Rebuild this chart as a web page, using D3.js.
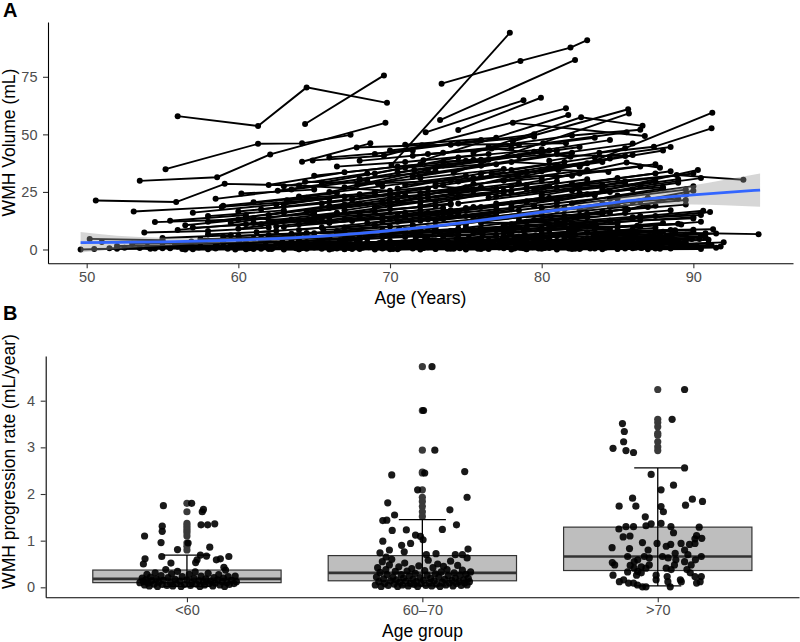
<!DOCTYPE html>
<html><head><meta charset="utf-8">
<script src="https://cdn.jsdelivr.net/npm/d3@7"></script>
<style>body{margin:0;background:#fff} svg{display:block} text{font-family:"Liberation Sans",Arial,Helvetica,sans-serif}</style>
</head><body><svg id="c" width="800" height="642"></svg>
<script>
// ---------- Panel A data: per-subject trajectories [age, vol, age, vol, ...]
const trajHigh = [
 [56.0,57.9, 61.3,53.6, 64.5,70.4, 69.8,63.7],
 [64.4,54.5, 69.6,75.6],
 [55.2,34.9, 61.3,45.9, 64.2,46.1, 67.4,49.8],
 [53.5,29.8, 58.6,31.4, 62.1,41.3, 69.7,55.0],
 [50.6,21.3, 55.9,20.6, 59.1,28.5, 64.0,27.8, 70.0,25.5],
 [53.1,16.5, 58.9,18.5, 66.0,22.0],
 [70.1,36.7, 77.9,94.1],
 [73.4,72.0, 78.6,81.9, 81.9,87.7, 83.0,90.9],
 [73.3,56.2, 82.2,82.3],
 [74.5,51.9, 79.95,65.9],
 [72.35,50.9, 78.8,64.8],
 [64.9,38.7, 69.6,40.7, 81.6,61.3],
 [72.2,38.8, 81.75,58.4],
 [75.5,42.0, 82.6,57.4, 86.65,53.7],
 [78.1,47.0, 85.7,60.9],
 [74.2,33.3, 85.75,59.1],
 [82.5,35.9, 91.25,59.4],
 [83.8,42.0, 87.4,44.6, 91.2,52.6],
 [80.1,46.1, 85.6,50.9],
 [78.1,55.0, 86.8,49.3],
 [67.8,44.3, 72.1,45.3, 81.6,46.1],
 [64.2,38.1, 68.7,46.1],
 [73.5,38.1, 80.0,41.0, 85.5,40.6],
 [71.5,40.7, 76.7,43.9, 81.9,40.3],
 [71.6,34.5, 78.0,38.0, 82.5,36.3],
 [76.7,33.0, 81.1,34.5, 84.4,33.7],
 [80.0,30.0, 85.6,37.8, 87.8,35.5],
 [81.0,27.0, 88.9,32.3, 93.3,30.3],
 [83.0,24.0, 90.3,34.5],
 [67.85,28.0, 72.0,31.0, 77.5,35.0],
 [64.4,29.4, 69.2,28.7, 74.0,30.0],
 [60.2,24.3, 65.0,26.0],
 [62.6,25.5, 68.0,30.5, 73.0,34.0],
 [63.2,21.4, 70.0,24.0, 76.0,27.0],
 [85.7,17.4, 89.55,24.0],
 [82.0,20.0, 85.0,23.5, 88.0,26.5],
 [86.0,14.0, 90.65,16.8],
 [84.5,12.5, 91.1,16.3],
 [54.5,11.9, 60.0,13.0, 65.0,15.5],
 [53.8,7.4, 58.0,8.0, 62.0,9.5],
 [50.2,4.6, 55.0,4.0],
 [49.6,0.0, 52.0,0.3, 55.0,0.5],
 [70.0,20.0, 75.5,28.5, 80.0,31.0],
 [66.0,18.0, 72.5,24.0, 78.5,29.0],
 [72.0,22.0, 79.0,26.5, 84.0,28.0],
 [75.0,18.0, 80.5,22.5, 86.0,26.0],
 [58.0,12.0, 63.0,16.0, 68.0,20.0],
 [60.0,9.0, 66.0,14.0, 72.0,17.0],
 [62.0,15.0, 67.0,19.5, 73.0,21.0],
 [56.5,10.5, 61.0,13.5, 66.0,12.0],
 [68.0,24.0, 73.0,27.5, 78.0,25.0],
 [71.0,28.0, 76.0,31.5, 82.0,32.0],
 [74.0,24.5, 79.0,28.0],
 [77.0,20.0, 82.5,24.5, 88.0,27.0],
 [79.0,15.0, 84.0,20.0, 89.0,22.0],
 [64.0,11.0, 69.5,13.5, 74.5,16.0],
 [67.0,13.0, 72.0,15.0, 77.0,18.5],
 [70.5,12.0, 75.0,14.5, 81.0,19.0],
 [73.0,10.0, 78.5,14.0, 84.0,15.5],
 [76.0,11.5, 81.5,12.0, 86.5,14.5],
 [59.0,19.0, 64.5,22.5, 69.0,24.5],
 [61.5,5.0, 66.5,8.0, 71.5,10.5],
 [88.8,7.3, 94.3,6.65],
 [85.0,8.0, 91.3,8.8],
 [84.0,5.0, 90.8,7.0],
 [85.5,1.5, 91.0,2.6],
 [83.0,3.0, 88.6,3.7],
 [80.0,9.0, 89.2,10.9],
 [66.5,36.0, 71.0,38.0, 76.5,41.5],
 [69.0,33.0, 74.5,40.0, 80.0,43.5]
];
const trajMid = [
 [60.5,14.0, 66.0,19.0, 71.0,23.5],[61.5,17.5, 67.5,22.0, 72.5,26.5],[63.0,19.5, 69.0,25.0],
 [64.5,16.5, 70.5,21.0, 75.5,25.5],[66.0,25.0, 71.5,32.0, 76.0,36.5],[67.5,21.5, 73.5,28.0, 79.0,33.5],
 [69.0,18.5, 74.5,23.0, 80.5,27.5],[70.5,26.5, 76.0,33.0, 81.5,38.0],[72.0,19.0, 77.5,25.5, 83.0,30.5],
 [73.5,15.5, 79.0,21.0, 84.5,25.0],[75.0,27.0, 80.5,35.5, 86.0,41.0],[76.5,22.5, 82.0,28.5, 87.5,33.0],
 [78.0,18.5, 83.5,24.0, 89.0,29.0],[79.5,25.5, 85.0,31.0],[81.0,21.0, 86.5,27.5, 90.5,31.0],
 [82.5,17.0, 87.0,22.5],[84.0,26.0, 89.0,30.5],[68.0,38.5, 73.5,42.0, 78.5,45.5],[70.0,43.0, 76.0,47.5],
 [72.5,41.5, 78.0,44.0, 83.5,48.5],[74.0,45.5, 79.5,50.0],[76.0,36.5, 81.0,41.5, 86.0,46.0],
 [77.5,30.0, 83.0,37.5, 88.0,43.0],[79.0,33.5, 84.5,39.5],[80.5,38.5, 85.5,44.0],
 [65.0,32.0, 70.5,36.0, 75.5,39.0],[62.0,28.0, 67.0,33.5, 72.0,37.0],[58.5,22.0, 63.5,26.0, 68.5,30.0],
 [57.0,16.0, 62.5,19.5, 67.0,23.0],[59.5,11.5, 65.0,16.5, 70.0,20.5],[63.5,13.0, 69.0,16.5, 74.0,20.0],
 [66.5,15.5, 72.0,20.5, 77.5,24.5],[69.5,14.0, 75.0,17.5, 80.0,22.5],[72.5,16.0, 78.0,20.0, 83.5,23.5],
 [75.5,13.5, 81.0,17.0, 86.5,21.0],[78.5,12.5, 84.0,16.5, 89.5,19.5],[81.5,14.5, 87.0,18.5],
 [84.5,18.5, 89.5,21.5],[86.0,20.5, 90.0,25.5],[67.0,27.0, 72.5,34.5],[71.5,31.5, 77.0,37.0, 82.0,42.0],
 [73.0,35.5, 78.5,40.5],[76.5,39.0, 82.5,44.5],[64.0,23.0, 69.5,27.5, 75.0,32.0],[61.0,20.5, 66.5,24.5],
 [77.0,26.5, 82.5,33.0, 87.5,37.0],[80.0,23.5, 85.5,29.5, 90.0,33.0],[74.5,29.5, 80.0,34.0],
 [83.0,29.0, 88.5,34.0],[70.0,22.5, 75.5,26.0, 81.0,29.5],
 [62.5,10.0, 68.0,14.5, 73.5,18.0],[64.0,8.5, 69.5,12.0, 74.5,15.0],[65.5,12.0, 71.0,16.0],[67.0,9.5, 72.5,13.0, 78.0,17.5],
 [68.5,11.5, 74.0,15.5, 79.5,19.0],[70.0,13.5, 75.5,18.5],[71.5,10.5, 77.0,14.0, 82.5,18.0],[73.0,12.5, 78.5,17.0],
 [74.5,11.0, 80.0,15.0, 85.5,18.5],[76.0,13.5, 81.5,18.0],[77.5,10.5, 83.0,14.0, 88.5,17.0],[79.0,12.0, 84.5,16.0],
 [80.5,10.0, 86.0,13.5, 90.5,15.0],[82.0,11.5, 87.5,14.5],[85.0,12.0, 90.0,14.0],
 [63.0,27.5, 68.5,33.0],[65.5,29.0, 71.0,35.5, 76.0,38.5],[68.0,30.5, 73.5,36.5],[70.5,33.5, 76.0,39.0, 81.0,43.0],
 [73.0,28.5, 78.5,33.0, 84.0,38.0],[75.5,31.0, 81.0,36.5],[78.0,34.5, 83.5,40.0, 88.5,44.5],[81.0,31.5, 86.5,36.0],
 [67.0,17.0, 72.5,22.5, 78.0,27.5],[69.5,21.0, 75.0,26.5],[72.0,24.5, 77.5,30.0, 83.0,34.5],[74.5,20.0, 80.0,24.5, 85.5,29.0],
 [77.0,23.0, 82.5,27.0],[79.5,19.0, 85.0,23.0, 90.0,27.5],[82.0,25.5, 87.5,29.5],[84.5,22.0, 89.5,26.0],
 [60.0,16.5, 65.5,20.0, 70.5,24.0],[58.0,14.5, 63.0,17.0],[56.0,8.5, 61.0,11.5, 66.0,14.0],[55.5,12.5, 60.5,15.0],
 [66.0,40.0, 71.5,43.0],[69.0,41.5, 74.5,46.0, 79.5,49.0],[76.5,44.5, 82.0,49.5, 86.5,52.0],[79.5,42.5, 84.5,47.5],
 [71.0,45.5, 77.0,48.5],[75.0,38.5, 80.5,43.0]
];
const trajLow = [
 [52.5,0.8, 56.0,1.2],[53.0,2.5, 57.5,3.0],[54.2,0.3, 58.0,0.6, 61.5,1.0],[55.0,5.0, 59.5,6.2],
 [55.8,1.5, 60.0,2.0, 63.5,2.2],[56.3,0.2, 60.5,0.4],[56.9,3.5, 61.0,4.8, 64.0,5.5],[57.4,0.9, 61.8,1.3],
 [58.0,6.5, 62.5,8.0],[58.5,0.4, 63.0,0.7, 66.5,1.1],[59.0,2.8, 63.5,3.5],[59.6,1.1, 64.0,1.8, 67.0,2.4],
 [60.1,4.2, 64.5,5.8],[60.7,0.5, 65.0,0.9],[61.2,7.5, 65.5,9.5, 69.0,10.5],[61.8,2.0, 66.0,2.6],
 [62.3,0.7, 66.8,1.2, 70.0,1.6],[62.9,3.3, 67.2,4.5],[63.4,1.4, 67.9,2.1],[64.0,5.5, 68.5,7.0, 72.0,8.2],
 [64.5,0.3, 69.0,0.6],[65.1,2.4, 69.5,3.4, 72.8,4.0],[65.6,8.5, 70.0,10.0],[66.2,1.0, 70.6,1.6],
 [66.7,4.0, 71.0,5.4, 74.5,6.8],[67.3,0.6, 71.8,1.0],[67.8,2.9, 72.3,4.1],[68.4,6.0, 72.9,7.8, 76.0,9.0],
 [68.9,1.7, 73.3,2.5],[69.5,0.4, 74.0,0.8, 77.2,1.3],[70.0,3.6, 74.5,5.0],[70.6,9.0, 75.0,11.0],
 [71.1,1.2, 75.6,2.0, 79.0,2.9],[71.7,5.2, 76.1,6.9],[72.2,0.8, 76.7,1.4],[72.8,2.6, 77.2,3.8, 80.5,4.9],
 [73.3,7.0, 77.8,8.9],[73.9,1.5, 78.3,2.4],[74.4,4.5, 78.9,6.3, 82.0,7.5],[75.0,0.5, 79.4,1.0],
 [75.5,3.1, 80.0,4.4],[76.1,6.4, 80.5,8.3, 83.6,9.8],[76.6,1.9, 81.1,2.9],[77.2,0.9, 81.6,1.6, 85.0,2.3],
 [77.7,4.8, 82.2,6.5],[78.3,2.3, 82.7,3.5],[78.8,8.0, 83.3,10.2],[79.4,1.3, 83.8,2.1, 87.0,3.0],
 [79.9,3.9, 84.4,5.3],[80.5,0.6, 84.9,1.1],[81.0,5.8, 85.5,7.6, 88.5,8.5],[81.6,2.1, 86.0,3.2],
 [82.1,1.0, 86.6,1.7],[82.7,4.2, 87.1,5.9],[83.2,0.4, 87.7,0.9],[83.8,2.7, 88.2,3.9],
 [84.3,6.8, 88.8,8.4],[84.9,1.6, 89.3,2.5],[85.4,3.4, 89.9,4.6],[86.0,0.8, 90.0,1.4],
 [57.0,9.5, 61.5,11.0, 65.0,12.5],[60.5,11.0, 65.5,13.0],[63.0,9.8, 67.5,12.4, 71.0,14.0],[66.0,11.5, 70.5,14.5],
 [69.0,10.5, 73.5,13.2, 77.0,15.0],[72.0,12.5, 77.0,16.5],[75.0,9.5, 79.5,12.8, 83.0,14.2],[78.0,11.0, 82.5,14.5],
 [81.0,12.0, 85.5,15.8],[83.5,9.0, 88.0,11.5],[86.5,10.0, 90.5,12.0],[62.0,12.5, 66.5,16.0],
 [65.0,14.5, 70.0,17.5, 74.0,19.5],[68.0,16.0, 73.0,19.0],[71.0,15.5, 76.0,18.5, 80.0,21.5],[74.0,17.0, 79.0,20.5],
 [77.0,14.0, 81.5,17.5, 85.0,19.5],[80.0,18.0, 85.0,22.0],[83.0,15.5, 87.5,19.0],
 [58.0,0.1, 62.0,0.2],[61.0,0.2, 65.5,0.3, 69.0,0.5],[64.0,0.1, 68.0,0.2],[67.0,0.2, 71.5,0.4, 75.0,0.6],
 [70.0,0.1, 74.0,0.3],[73.0,0.3, 77.5,0.5, 81.0,0.8],[76.0,0.2, 80.0,0.3],[79.0,0.1, 83.5,0.4, 86.5,0.7],
 [82.0,0.2, 86.0,0.5],[85.0,0.3, 88.5,0.4],[59.5,1.8, 64.0,2.2],[62.5,2.5, 67.0,3.1],
 [65.5,1.3, 70.0,2.0, 73.5,2.6],[68.5,3.2, 73.0,4.0],[71.5,2.2, 76.0,3.0],[74.5,1.7, 79.0,2.6, 82.5,3.3],
 [77.5,3.0, 82.0,4.2],[80.5,2.4, 85.0,3.6],[83.5,1.8, 88.0,2.8],[86.5,2.0, 89.5,3.0],
 [57.5,4.5, 62.0,5.2],[60.0,6.0, 64.5,7.2, 68.0,8.1],[63.5,4.8, 68.0,6.2],[66.5,6.8, 71.0,8.5],
 [69.5,5.5, 74.0,7.1, 77.5,8.0],[72.5,4.3, 77.0,5.9],[75.5,7.2, 80.0,9.2],[78.5,5.6, 83.0,7.3, 86.0,8.8],
 [81.5,6.5, 86.0,8.0],[84.5,4.6, 88.5,6.0],[54.0,1.2, 58.5,1.5],[51.5,0.5, 55.5,0.8],[50.5,0.2, 54.5,0.4],
 [55.5,0.5, 60.0,0.9],[56.0,2.2, 60.5,2.9, 64.0,3.4],[57.0,0.1, 61.5,0.3],[57.8,3.8, 62.0,4.5],
 [58.6,1.4, 63.0,1.9, 66.0,2.5],[59.3,0.3, 63.8,0.5],[60.0,2.6, 64.5,3.3],[60.8,0.8, 65.2,1.2, 68.5,1.7],
 [61.5,4.0, 66.0,5.2],[62.2,0.2, 66.5,0.4],[62.8,1.6, 67.4,2.4, 70.8,3.0],[63.5,3.0, 68.0,3.9],
 [64.2,0.6, 68.6,1.0],[64.8,2.0, 69.3,2.8, 72.6,3.5],[65.5,4.6, 70.0,5.9],[66.2,0.3, 70.6,0.6],
 [66.8,1.8, 71.3,2.6, 74.6,3.2],[67.5,5.0, 72.0,6.4],[68.2,0.7, 72.6,1.2],[68.8,2.3, 73.3,3.1, 76.5,3.9],
 [69.5,6.5, 74.0,8.0],[70.2,0.2, 74.6,0.5],[70.8,1.5, 75.3,2.3, 78.6,3.0],[71.5,3.4, 76.0,4.6],
 [72.2,0.6, 76.6,1.0, 80.0,1.5],[72.8,2.8, 77.3,3.7],[73.5,5.6, 78.0,7.2],[74.2,0.3, 78.6,0.7],
 [74.8,1.9, 79.3,2.7, 82.6,3.5],[75.5,4.1, 80.0,5.4],[76.2,0.8, 80.6,1.3],[76.8,2.5, 81.3,3.4, 84.6,4.3],
 [77.5,6.0, 82.0,7.6],[78.2,0.4, 82.6,0.8],[78.8,1.7, 83.3,2.5, 86.6,3.3],[79.5,3.6, 84.0,4.8],
 [80.2,0.9, 84.6,1.4],[80.8,2.9, 85.3,4.0, 88.6,4.9],[81.5,5.2, 86.0,6.6],[82.2,0.3, 86.6,0.6],
 [82.8,1.9, 87.3,2.8],[83.5,3.8, 88.0,5.0],[84.2,0.7, 88.6,1.2],[84.8,2.4, 89.0,3.3],
 [85.5,5.0, 89.5,6.4],[86.2,1.0, 90.2,1.6],[87.0,3.0, 91.0,4.2],[87.5,0.4, 91.5,0.8],
 [59.0,5.5, 63.5,6.8, 67.0,7.5],[62.0,6.3, 66.5,7.5],[65.0,7.0, 69.5,8.4, 73.0,9.2],[68.0,7.8, 72.5,9.3],
 [71.0,6.8, 75.5,8.4, 79.0,9.5],[74.0,7.9, 78.5,9.6],[77.0,8.3, 81.5,10.0, 85.0,11.2],[80.0,7.0, 84.5,8.9],
 [83.0,7.4, 87.5,9.4],[86.0,6.3, 90.0,7.6],
 [56.5,0.0, 60.5,0.1],[59.8,0.0, 64.0,0.1, 67.5,0.2],[63.0,0.0, 67.0,0.1],[66.0,0.0, 70.5,0.1, 73.8,0.3],
 [69.0,0.0, 73.0,0.2],[72.0,0.0, 76.5,0.2, 79.8,0.4],[75.0,0.0, 79.0,0.2],[78.0,0.0, 82.5,0.2, 85.5,0.4],
 [81.0,0.0, 85.0,0.2],[84.0,0.1, 87.8,0.3],[87.0,0.1, 90.5,0.2],
 [53.5,0.6, 57.0,0.9],[55.0,2.8, 59.0,3.4],[52.0,1.5, 56.0,1.8],[51.0,3.2, 55.0,3.6],
 [72.5,1.0, 77.0,1.8, 81.0,2.5],[73.8,3.5, 78.2,4.6, 82.0,5.8],[75.2,5.0, 79.6,6.2],[76.4,2.0, 80.8,2.9, 84.8,3.8],
 [77.8,7.5, 82.3,9.0],[78.6,3.2, 83.0,4.5, 87.0,5.6],[79.8,5.5, 84.2,7.0],[80.6,1.2, 85.0,2.0, 89.0,2.8],
 [81.8,8.5, 86.3,10.3],[82.4,3.6, 86.8,4.9, 90.5,5.8],[83.6,6.2, 88.0,7.7],[84.6,2.6, 89.0,3.6],
 [85.8,7.2, 90.0,8.6],[86.8,4.2, 90.8,5.3],[87.6,1.2, 91.2,2.0],[88.2,5.8, 91.5,6.9],
 [76.0,9.0, 80.5,11.0, 84.5,12.5],[79.0,9.8, 83.5,11.8],[82.0,10.5, 86.5,12.6, 90.0,13.5],[85.0,9.6, 89.0,11.2],
 [73.0,8.2, 77.5,10.0, 81.5,11.6],[70.0,7.2, 74.5,9.0],[67.0,5.8, 71.5,7.2, 75.5,8.4],[64.0,3.8, 68.5,5.0],
 [74.6,2.8, 79.0,3.9],[77.4,4.4, 81.9,5.8],[80.4,3.3, 84.8,4.5],[83.4,5.3, 87.8,6.8],[86.4,3.6, 90.4,4.6],
 [88.5,0.9, 91.8,1.3],[89.0,2.4, 92.0,3.1],[75.8,0.3, 80.2,0.6, 84.2,1.0],[78.8,0.5, 83.2,0.9],[81.8,0.4, 86.2,0.8, 89.8,1.2]
];
// smooth fit with confidence band
const smoothAge = [49.6, 52, 55, 58, 60, 62, 65, 68, 70, 72, 75, 78, 80, 82, 85, 88, 90, 92, 94.4];
const smoothFit = [3.0, 3.1, 3.3, 3.7, 4.1, 4.6, 5.6, 7.0, 8.2, 9.5, 11.8, 14.4, 16.2, 17.9, 20.6, 22.6, 23.7, 24.7, 25.8];
const smoothLo  = [-1.3, 0.2, 1.5, 2.5, 3.1, 3.8, 4.9, 6.3, 7.5, 8.8, 11.0, 13.6, 15.3, 16.7, 18.6, 19.6, 19.5, 19.2, 18.6];
const smoothHi  = [7.6, 6.0, 5.1, 4.9, 5.1, 5.4, 6.3, 7.7, 8.9, 10.2, 12.6, 15.2, 17.1, 19.1, 22.6, 25.6, 27.9, 30.2, 33.0];
const xTicksA = [50, 60, 70, 80, 90];
const yTicksA = [0, 25, 50, 75];

// ---------- Panel B data
const groups = ["<60", "60\u201370", ">70"];
const boxQ1  = [0.10, 0.14, 0.36];
const boxMed = [0.18, 0.31, 0.66];
const boxQ3  = [0.37, 0.68, 1.29];
const whiskLo = [0.02, 0.03, 0.03];
const whiskHi = [0.69, 1.45, 2.56];
const outliers = [
 [1.80, 1.62, 1.37, 1.32, 1.27, 1.22, 1.17, 1.10, 0.95, 0.88, 0.80],
 [4.73, 3.79, 2.94, 2.47, 2.45, 2.09, 1.93, 1.84, 1.73, 1.62, 1.52],
 [4.24, 3.60, 3.53, 3.44, 3.30, 3.26, 3.12, 3.01, 2.93]
];
// jittered points: [offset (in category steps), rate]
const ptsLt60 = [
 [-0.10,1.75],[0.02,1.80],[0.065,1.62],[0.07,1.67],[-0.105,1.31],[-0.105,1.2],[-0.18,1.1],[-0.11,0.96],
 [0.06,1.34],[0.088,1.34],[0.118,1.36],[-0.04,0.81],[0.097,0.86],[0.057,0.69],[0.083,0.67],[0.043,0.59],
 [0.037,0.53],[-0.178,0.61],[-0.185,0.50],[-0.107,0.66],[-0.068,0.52],[0.125,0.59],[0.142,0.61],[0.178,0.66],
 [0.157,0.43],[0.164,0.37],[0.005,0.95],
 [-0.19,0.20],[-0.185,0.12],[-0.18,0.05],[-0.175,0.16],[-0.17,0.28],[-0.165,0.09],[-0.16,0.03],[-0.155,0.22],
 [-0.15,0.14],[-0.14,0.07],[-0.135,0.31],[-0.13,0.18],[-0.125,0.02],[-0.12,0.11],[-0.11,0.25],[-0.105,0.06],
 [-0.1,0.15],[-0.09,0.38],[-0.085,0.04],[-0.08,0.21],[-0.07,0.10],[-0.065,0.29],[-0.06,0.03],[-0.05,0.17],
 [-0.045,0.08],[-0.04,0.34],[-0.03,0.13],[-0.025,0.02],[-0.02,0.23],[-0.01,0.06],[0.0,0.16],[0.01,0.28],
 [0.015,0.04],[0.02,0.10],[0.03,0.19],[0.035,0.33],[0.04,0.07],[0.05,0.14],[0.055,0.02],[0.06,0.24],
 [0.07,0.11],[0.075,0.05],[0.08,0.18],[0.09,0.30],[0.095,0.08],[0.1,0.13],[0.11,0.03],[0.115,0.21],
 [0.12,0.09],[0.13,0.16],[0.135,0.27],[0.14,0.05],[0.15,0.12],[0.155,0.20],[0.16,0.02],[0.17,0.10],
 [0.175,0.23],[0.18,0.06],[0.19,0.15],[0.2,0.08],[0.205,0.24],[0.21,0.12],[-0.2,0.10]
];
const pts60to70 = [
 [0.041,4.73],[0.005,3.79],[0.053,2.94],[-0.13,2.41],[0.01,2.45],[0.18,2.48],[0.19,1.93],[-0.02,2.09],
 [-0.147,1.81],[-0.118,1.55],[-0.168,1.43],[-0.151,1.44],[0.117,1.66],[0.145,1.34],[0.085,1.24],[-0.128,1.22],
 [-0.068,1.23],[-0.029,1.12],[-0.008,1.09],[0.003,1.02],[-0.05,0.94],[-0.168,0.99],[-0.088,0.90],[-0.077,0.76],
 [0.194,0.82],[-0.18,0.74],[-0.154,0.65],[0.017,0.70],[0.058,0.72],[0.14,0.70],[0.17,0.70],[0.19,0.63],
 [-0.14,0.80],
 [-0.2,0.05],[-0.195,0.22],[-0.19,0.42],[-0.185,0.12],[-0.18,0.32],[-0.175,0.02],[-0.17,0.55],[-0.165,0.18],
 [-0.16,0.08],[-0.155,0.38],[-0.15,0.27],[-0.145,0.04],[-0.14,0.48],[-0.135,0.14],[-0.13,0.60],[-0.125,0.22],
 [-0.12,0.07],[-0.115,0.34],[-0.11,0.16],[-0.105,0.02],[-0.1,0.44],[-0.095,0.11],[-0.09,0.27],[-0.085,0.05],
 [-0.08,0.20],[-0.075,0.52],[-0.07,0.13],[-0.065,0.35],[-0.06,0.03],[-0.055,0.24],[-0.05,0.09],[-0.045,0.40],
 [-0.04,0.17],[-0.035,0.06],[-0.03,0.30],[-0.025,0.12],[-0.02,0.02],[-0.015,0.46],[-0.01,0.21],[-0.005,0.08],
 [0.005,0.15],[0.01,0.36],[0.015,0.04],[0.02,0.26],[0.025,0.58],[0.03,0.10],[0.035,0.19],[0.04,0.03],
 [0.045,0.42],[0.05,0.14],[0.055,0.29],[0.06,0.07],[0.065,0.50],[0.07,0.22],[0.075,0.02],[0.08,0.33],
 [0.085,0.11],[0.09,0.45],[0.095,0.17],[0.1,0.05],[0.105,0.38],[0.11,0.25],[0.115,0.09],[0.12,0.56],
 [0.125,0.15],[0.13,0.03],[0.135,0.31],[0.14,0.20],[0.145,0.08],[0.15,0.47],[0.155,0.12],[0.16,0.26],
 [0.165,0.04],[0.17,0.37],[0.175,0.16],[0.18,0.09],[0.185,0.28],[0.19,0.05],[0.195,0.19],[0.2,0.12],[0.205,0.33]
];
const ptsGt70 = [
 [0.114,4.24],[0.061,3.60],[-0.15,3.51],[-0.142,3.34],[-0.145,3.12],[-0.19,2.98],[-0.135,2.93],[-0.103,2.89],
 [0.114,2.56],[-0.028,2.42],[0.067,2.19],[0.014,2.09],[-0.107,1.91],[0.147,1.89],[0.19,1.84],[-0.164,1.74],
 [-0.093,1.74],[0.118,1.76],[0.014,1.73],[0.024,1.62],[-0.053,1.51],[-0.05,1.32],[-0.028,1.36],[0.014,1.37],
 [-0.165,1.25],[-0.135,1.30],[-0.103,1.30],[0.056,1.30],[0.067,1.17],[0.176,1.29],[-0.147,1.08],[-0.118,1.10],
 [0.165,1.11],[0.158,1.04],[0.187,1.05],[-0.194,0.85],[-0.12,0.83],[-0.065,0.96],[-0.041,0.80],[-0.003,0.94],
 [0.036,0.88],[0.055,0.92],[0.099,0.94],[0.135,0.92],[0.158,0.94],[-0.193,0.53],[-0.183,0.48],[-0.128,0.66],
 [-0.1,0.55],[-0.085,0.59],[-0.057,0.66],[-0.036,0.63],[0.02,0.66],[0.044,0.63],[0.074,0.73],[0.077,0.59],
 [0.114,0.55],[0.142,0.48],[0.16,0.59],[0.185,0.66],[-0.19,0.26],[-0.163,0.12],[-0.145,0.16],[-0.124,0.09],
 [-0.103,0.09],[-0.086,0.05],[-0.065,0.01],[-0.05,0.01],[-0.1,0.41],[-0.085,0.34],[-0.07,0.44],[-0.09,0.26],
 [-0.007,0.26],[-0.007,0.16],[0.04,0.23],[0.043,0.12],[0.053,0.01],[0.096,0.16],[0.1,0.12],[0.124,0.38],
 [0.138,0.31],[0.158,0.23],[0.18,0.12],[0.185,0.23],[0.165,0.09],[0.057,0.38],[0.071,0.48],[0.036,0.41],
 [-0.05,0.41],[-0.036,0.48],[-0.07,0.31],[-0.128,0.33],[-0.117,0.47],[0.114,0.80],[0.128,0.70]
];
const groupPts = [ptsLt60, pts60to70, ptsGt70];
const yTicksB = [0, 1, 2, 3, 4];

// ---------- Drawing
const svg = d3.select("#c");
const FONT = '"Liberation Sans",Arial,Helvetica,sans-serif';
const tickColor = "#4d4d4d";
const TICK_FS = 14.5;

function styleAxis(g) {
  g.attr("font-size", TICK_FS).attr("font-family", FONT);
  g.selectAll("path.domain").attr("stroke", "#000").attr("stroke-width", 1.1);
  g.selectAll(".tick line").attr("stroke", "#333").attr("stroke-width", 1.1);
  g.selectAll(".tick text").attr("fill", tickColor).attr("font-size", TICK_FS)
    .style("font-size", TICK_FS + "px");
}

// Panel A
const xA = d3.scaleLinear().domain([47.45, 96.57]).range([48, 793]);
const yA = d3.scaleLinear().domain([-6.0, 98.8]).range([263.3, 22]);
const gA = svg.append("g");
const allTraj = trajLow.concat(trajMid, trajHigh);
const toPairs = t => d3.range(0, t.length, 2).map(i => [t[i], t[i + 1]]);
const lineA = d3.line().x(d => xA(d[0])).y(d => yA(d[1]));
gA.append("g").selectAll("path").data(allTraj).join("path")
  .attr("d", t => lineA(toPairs(t))).attr("fill", "none").attr("stroke", "#000").attr("stroke-width", 1.9);
gA.append("g").selectAll("circle").data(allTraj.flatMap(toPairs)).join("circle")
  .attr("cx", d => xA(d[0])).attr("cy", d => yA(d[1])).attr("r", 3.0).attr("fill", "#000");
const sm = smoothAge.map((a, i) => ({a, f: smoothFit[i], lo: smoothLo[i], hi: smoothHi[i]}));
gA.append("path").datum(sm)
  .attr("d", d3.area().curve(d3.curveMonotoneX).x(d => xA(d.a)).y0(d => yA(d.lo)).y1(d => yA(d.hi)))
  .attr("fill", "#999999").attr("fill-opacity", 0.4);
gA.append("path").datum(sm)
  .attr("d", d3.line().curve(d3.curveMonotoneX).x(d => xA(d.a)).y(d => yA(d.f)))
  .attr("fill", "none").attr("stroke", "#3366FF").attr("stroke-width", 2.8);

const axXA = gA.append("g").attr("transform", "translate(0,263.3)")
  .call(d3.axisBottom(xA).tickValues(xTicksA).tickFormat(d3.format("d")).tickSize(5).tickSizeOuter(0).tickPadding(3.4));
styleAxis(axXA);
const axYA = gA.append("g").attr("transform", "translate(48,0)")
  .call(d3.axisLeft(yA).tickValues(yTicksA).tickFormat(d3.format("d")).tickSize(5).tickSizeOuter(0).tickPadding(5.5));
styleAxis(axYA);

svg.append("text").attr("x", 420.5).attr("y", 304).attr("text-anchor", "middle")
  .attr("font-size", 17.5).attr("font-family", FONT).attr("fill", "#000").text("Age (Years)");
svg.append("text").attr("transform", "translate(14.5,142.5) rotate(-90)").attr("text-anchor", "middle")
  .attr("font-size", 17.5).attr("font-family", FONT).attr("fill", "#000").text("WMH Volume (mL)");
svg.append("text").attr("x", 3).attr("y", 16.5).attr("font-size", 20).attr("font-weight", "bold")
  .attr("font-family", FONT).text("A");

// Panel B
const xB = d3.scalePoint().domain(groups).range([45.7, 799]).padding(0.6);
const yB = d3.scaleLinear().domain([-0.214, 4.958]).range([597.3, 356]);
const stepB = xB.step();
const gB = svg.append("g");
const boxW = 0.8 * stepB, capW = 0.2 * stepB;
groups.forEach((g, i) => {
  const cx = xB(g);
  gB.append("rect").attr("x", cx - boxW / 2).attr("width", boxW)
    .attr("y", yB(boxQ3[i])).attr("height", yB(boxQ1[i]) - yB(boxQ3[i]))
    .attr("fill", "#bebebe").attr("stroke", "#333").attr("stroke-width", 1.2);
  gB.append("line").attr("x1", cx - boxW / 2).attr("x2", cx + boxW / 2)
    .attr("y1", yB(boxMed[i])).attr("y2", yB(boxMed[i])).attr("stroke", "#333").attr("stroke-width", 2.6);
  gB.selectAll(null).data(outliers[i]).join("circle")
    .attr("cx", cx).attr("cy", d => yB(d)).attr("r", 3.6).attr("fill", "#3a3a3a");
});
groups.forEach((g, i) => {
  const cx = xB(g);
  gB.append("line").attr("x1", cx).attr("x2", cx).attr("y1", yB(whiskLo[i])).attr("y2", yB(whiskHi[i]))
    .attr("stroke", "#000").attr("stroke-width", 1.3);
  [whiskLo[i], whiskHi[i]].forEach(v => gB.append("line")
    .attr("x1", cx - capW / 2).attr("x2", cx + capW / 2).attr("y1", yB(v)).attr("y2", yB(v))
    .attr("stroke", "#000").attr("stroke-width", 1.3));
  gB.selectAll(null).data(groupPts[i]).join("circle")
    .attr("cx", d => cx + d[0] * stepB).attr("cy", d => yB(d[1])).attr("r", 3.6)
    .attr("fill", "#000").attr("fill-opacity", 0.9);
});
const axXB = gB.append("g").attr("transform", "translate(0,597.3)")
  .call(d3.axisBottom(xB).tickSize(5).tickSizeOuter(0).tickPadding(2.7));
styleAxis(axXB);
const axYB = gB.append("g").attr("transform", "translate(45.7,0)")
  .call(d3.axisLeft(yB).tickValues(yTicksB).tickFormat(d3.format("d")).tickSize(5).tickSizeOuter(0).tickPadding(5.5));
styleAxis(axYB);

svg.append("text").attr("x", 422.5).attr("y", 637).attr("text-anchor", "middle")
  .attr("font-size", 17.5).attr("font-family", FONT).attr("fill", "#000").text("Age group");
svg.append("text").attr("transform", "translate(14.5,461.5) rotate(-90)").attr("text-anchor", "middle")
  .attr("font-size", 17.5).attr("font-family", FONT).attr("fill", "#000").text("WMH progression rate (mL/year)");
svg.append("text").attr("x", 3).attr("y", 320).attr("font-size", 20).attr("font-weight", "bold")
  .attr("font-family", FONT).text("B");
</script></body></html>
